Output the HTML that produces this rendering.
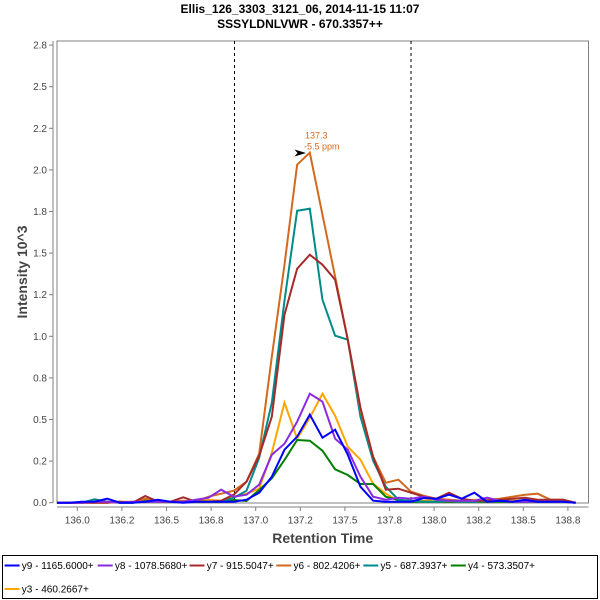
<!DOCTYPE html>
<html><head><meta charset="utf-8"><style>
html,body{margin:0;padding:0;background:#fff;}
svg{display:block;font-family:"Liberation Sans",Arial,sans-serif;}
</style></head><body>
<svg width="600" height="600" viewBox="0 0 600 600" xmlns="http://www.w3.org/2000/svg">
<rect x="0" y="0" width="600" height="600" fill="#fff"/>
<text x="300" y="13" font-size="12" font-weight="bold" text-anchor="middle" fill="#000">Ellis_126_3303_3121_06, 2014-11-15 11:07</text>
<text x="300" y="28" font-size="12" font-weight="bold" text-anchor="middle" fill="#000">SSSYLDNLVWR - 670.3357++</text>

<!-- plot outline -->
<rect x="57" y="41" width="531.5" height="462" fill="none" stroke="#808080" stroke-width="1"/>
<!-- y axis -->
<line x1="53" y1="41" x2="53" y2="503" stroke="#808080" stroke-width="1"/>
<!-- x axis -->
<line x1="57" y1="507" x2="588.5" y2="507" stroke="#808080" stroke-width="1"/>

<g stroke="#808080" stroke-width="1">
<line x1="49" y1="502.7" x2="53" y2="502.7"/>
<line x1="49" y1="461.1" x2="53" y2="461.1"/>
<line x1="49" y1="419.5" x2="53" y2="419.5"/>
<line x1="49" y1="377.9" x2="53" y2="377.9"/>
<line x1="49" y1="336.3" x2="53" y2="336.3"/>
<line x1="49" y1="294.7" x2="53" y2="294.7"/>
<line x1="49" y1="253.1" x2="53" y2="253.1"/>
<line x1="49" y1="211.5" x2="53" y2="211.5"/>
<line x1="49" y1="169.9" x2="53" y2="169.9"/>
<line x1="49" y1="128.3" x2="53" y2="128.3"/>
<line x1="49" y1="86.7" x2="53" y2="86.7"/>
<line x1="49" y1="45.1" x2="53" y2="45.1"/>
<line x1="77.3" y1="507" x2="77.3" y2="511"/>
<line x1="121.9" y1="507" x2="121.9" y2="511"/>
<line x1="166.5" y1="507" x2="166.5" y2="511"/>
<line x1="211.1" y1="507" x2="211.1" y2="511"/>
<line x1="255.7" y1="507" x2="255.7" y2="511"/>
<line x1="300.3" y1="507" x2="300.3" y2="511"/>
<line x1="344.9" y1="507" x2="344.9" y2="511"/>
<line x1="389.5" y1="507" x2="389.5" y2="511"/>
<line x1="434.1" y1="507" x2="434.1" y2="511"/>
<line x1="478.7" y1="507" x2="478.7" y2="511"/>
<line x1="523.3" y1="507" x2="523.3" y2="511"/>
<line x1="567.9" y1="507" x2="567.9" y2="511"/>
</g>

<g font-size="10" fill="#444" text-anchor="end">
<text x="47" y="506.2">0.0</text>
<text x="47" y="464.6">0.2</text>
<text x="47" y="423">0.5</text>
<text x="47" y="381.4">0.8</text>
<text x="47" y="339.8">1.0</text>
<text x="47" y="298.2">1.2</text>
<text x="47" y="256.6">1.5</text>
<text x="47" y="215">1.8</text>
<text x="47" y="173.4">2.0</text>
<text x="47" y="131.8">2.2</text>
<text x="47" y="90.2">2.5</text>
<text x="47" y="48.6">2.8</text>
</g>
<g font-size="10" fill="#444" text-anchor="middle">
<text x="77.3" y="523.5">136.0</text>
<text x="121.9" y="523.5">136.2</text>
<text x="166.5" y="523.5">136.5</text>
<text x="211.1" y="523.5">136.8</text>
<text x="255.7" y="523.5">137.0</text>
<text x="300.3" y="523.5">137.2</text>
<text x="344.9" y="523.5">137.5</text>
<text x="389.5" y="523.5">137.8</text>
<text x="434.1" y="523.5">138.0</text>
<text x="478.7" y="523.5">138.2</text>
<text x="523.3" y="523.5">138.5</text>
<text x="567.9" y="523.5">138.8</text>
</g>

<text x="322.7" y="543" font-size="14" font-weight="bold" fill="#444" text-anchor="middle">Retention Time</text>
<text transform="translate(27,272) rotate(-90)" x="0" y="0" font-size="14" font-weight="bold" fill="#444" text-anchor="middle">Intensity 10^3</text>

<!-- dashed boundaries -->
<line x1="234.5" y1="41" x2="234.5" y2="503" stroke="#000" stroke-width="1" stroke-dasharray="3,3"/>
<line x1="411" y1="41" x2="411" y2="503" stroke="#000" stroke-width="1" stroke-dasharray="3,3"/>

<defs><clipPath id="pc"><rect x="57" y="41" width="531.5" height="463"/></clipPath></defs>
<g clip-path="url(#pc)">
<g transform="matrix(12.66,0,0,-1,56.6,502.7)" fill="none" stroke-width="2" stroke-linejoin="miter">
<!-- y3 orange -->
<polyline vector-effect="non-scaling-stroke" stroke="#ffa500" points="0,0 1,0 2,0 3,1 4,1 5,1 6,1 7,2 8,2 9,1 10,1 11,1 12,3 13,2 14,6 15,9 16,14 17,50 18,100 19,64 20,85 21,109 22,87 23,56 24,43 25,19 26,9 27,2 28,1 29,2 30,4 31,3 32,2 33,3 34,2 35,2 36,2 37,2 38,2 39,1 40,1 41,0"/>
<!-- y4 green -->
<polyline vector-effect="non-scaling-stroke" stroke="#008000" points="0,0 1,0 2,0 3,1 4,1 5,0 6,0 7,3.4 8,1 9,1 10,1 11,1 12,1 13,1 14,2.7 15,1.7 16,12.7 17,24.4 18,42.7 19,62.7 20,62 21,52 22,33.4 23,27.7 24,18.7 25,18.7 26,6 27,2.7 28,1 29,1 30,1 31,1 32,1 33,1 34,1 35,1 36,1 37,1 38,1 39,1 40,1 41,0"/>
<!-- y5 teal -->
<polyline vector-effect="non-scaling-stroke" stroke="#008b8b" points="0,0 1,0 2,0 3,3.4 4,1 5,0 6,0 7,1 8,1 9,1 10,1 11,1 12,1 13,1 14,5 15,12 16,45 17,100 18,202 19,292 20,294 21,203 22,167 23,163 24,86 25,42 26,16 27,3 28,2 29,1 30,1 31,2 32,1 33,1 34,2 35,2 36,1 37,1 38,1 39,1 40,1 41,0"/>
<!-- y6 chocolate -->
<polyline vector-effect="non-scaling-stroke" stroke="#d2691e" points="0,0 1,0 2,0 3,0 4,0 5,1 6,0 7,4 8,1 9,1 10,2 11,1 12,6 13,9 14,12 15,21 16,49 17,146 18,238 19,338 20,350 21,288 22,226 23,163 24,93 25,46 26,20 27,23 28,11 29,7 30,4 31,3 32,2 33,2 34,3 35,4 36,6 37,8 38,9 39,3 40,3 41,0"/>
<!-- y7 brown -->
<polyline vector-effect="non-scaling-stroke" stroke="#a52a2a" points="0,0 1,0 2,0 3,0 4,0 5,1 6,0 7,6.7 8,1 9,1 10,5.4 11,1 12,1 13,2 14,8 15,21 16,47 17,86 18,188 19,234 20,248 21,238 22,223 23,163 24,95 25,46 26,13 27,14 28,10 29,6 30,4 31,10 32,4 33,2 34,2 35,3 36,4 37,5 38,3 39,3 40,3 41,0"/>
<!-- y8 purple -->
<polyline vector-effect="non-scaling-stroke" stroke="#8a2be2" points="0,0 1,0 2,0 3,1 4,1 5,0 6,1 7,1 8,1 9,1 10,1 11,3 12,5 13,13 14,6 15,8 16,18 17,48 18,59 19,81 20,109 21,101 22,64 23,53 24,26 25,6 26,3 27,5 28,4 29,6 30,3 31,2 32,2 33,2 34,5 35,2 36,1 37,1 38,1 39,1 40,1 41,0"/>
<!-- y9 blue -->
<polyline vector-effect="non-scaling-stroke" stroke="#0000ff" points="0,0 1,0 2,1 3,1 4,4 5,0 6,0 7,1 8,3 9,1 10,0 11,1 12,1 13,1 14,1 15,3 16,10 17,26 18,53 19,66 20,88 21,65 22,73 23,48 24,16 25,2 26,1 27,1 28,1 29,4.7 30,4 31,8 32,4 33,10 34,1 35,2 36,1 37,3 38,1 39,1 40,1 41,0"/>
</g>
</g>

<!-- annotation -->
<polygon points="294.5,149.5 306,153 294.5,156.5 297.5,153" fill="#000"/>
<text x="305" y="138.5" font-size="9" fill="#d2691e">137.3</text>
<text x="304" y="149.5" font-size="9" fill="#d2691e">-5.5 ppm</text>

<!-- legend -->
<rect x="2.5" y="555.5" width="595" height="43" fill="none" stroke="#000" stroke-width="1"/>
<g stroke-width="2">
<line x1="4.6" y1="565.5" x2="19.6" y2="565.5" stroke="#0000ff"/>
<line x1="97.7" y1="565.5" x2="112.7" y2="565.5" stroke="#8a2be2"/>
<line x1="189.5" y1="565.5" x2="204.5" y2="565.5" stroke="#a52a2a"/>
<line x1="276.3" y1="565.5" x2="291.3" y2="565.5" stroke="#d2691e"/>
<line x1="363.3" y1="565.5" x2="378.3" y2="565.5" stroke="#008b8b"/>
<line x1="450.8" y1="565.5" x2="465.8" y2="565.5" stroke="#008000"/>
<line x1="4.6" y1="589" x2="19.6" y2="589" stroke="#ffa500"/>
</g>
<g font-size="10" fill="#000">
<text x="21.8" y="569">y9 - 1165.6000+</text>
<text x="114.9" y="569">y8 - 1078.5680+</text>
<text x="206.7" y="569">y7 - 915.5047+</text>
<text x="293.5" y="569">y6 - 802.4206+</text>
<text x="380.5" y="569">y5 - 687.3937+</text>
<text x="468" y="569">y4 - 573.3507+</text>
<text x="21.8" y="592.5">y3 - 460.2667+</text>
</g>
</svg>
</body></html>
